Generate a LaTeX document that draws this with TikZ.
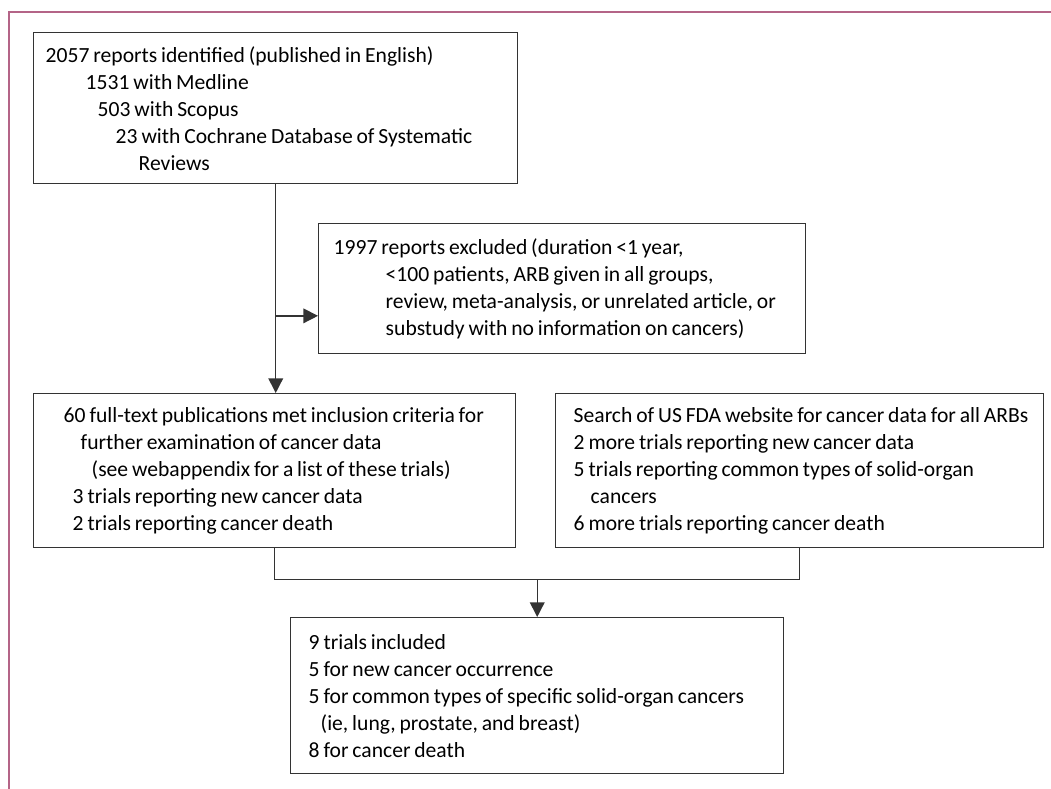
\documentclass[tikz,border=0pt]{standalone}
\usepackage{fontspec}
\setmainfont{Carlito}
\usetikzlibrary{arrows.meta,calc}
\definecolor{framepink}{RGB}{180,100,135}
\begin{document}
\begin{tikzpicture}[x=0.75pt,y=-0.75pt,font=\fontsize{16.2}{20.25}\selectfont,
  box/.style={draw=black!80,line width=1.1pt,anchor=north west,align=left,inner ysep=0pt,
    execute at begin node={\rightskip=-4em plus 1fil\spaceskip=2.9pt plus 1pt}},
  wire/.style={draw=black!80,line width=1.1pt},
  arr/.style={wire,-{Triangle[length=11pt,width=11pt]}}]
\useasboundingbox (0,0) rectangle (1051,789);
\draw[framepink,line width=1.2pt] (1051,12) -- (9,12) -- (9,789);
\node[box,inner xsep=9pt,text width=345pt,minimum height=113.25pt] (found) at (33,32) {2057 reports identified (published in English)\\
\hspace*{30pt}1531 with Medline\\
\hspace*{39pt}503 with Scopus\\
\hspace*{52.5pt}23 with Cochrane Database of Systematic\\
\hspace*{69.75pt}Reviews};
\node[box,inner xsep=11.25pt,text width=342.75pt,minimum height=97.5pt] (excluded) at (318,223) {1997 reports excluded (duration <1 year,\\
\hspace*{39pt}<100 patients, ARB given in all groups,\\
\hspace*{39pt}review, meta-analysis, or unrelated article, or\\
\hspace*{39pt}substudy with no information on cancers)};
\node[box,inner xsep=22.5pt,text width=316.5pt,minimum height=115.5pt] (screened) at (33,393) {60 full-text publications met inclusion criteria for\\
\hspace*{12.75pt}further examination of cancer data\\
\hspace*{21pt}(see webappendix for a list of these trials)\\
\hspace*{6.75pt}3 trials reporting new cancer data\\
\hspace*{6.75pt}2 trials reporting cancer death};
\node[box,inner xsep=13.5pt,text width=339pt,minimum height=115.5pt] (fda) at (555,393) {Search of US FDA website for cancer data for all ARBs\\
2 more trials reporting new cancer data\\
5 trials reporting common types of solid-organ\\
\hspace*{12.75pt}cancers\\
6 more trials reporting cancer death};
\node[box,inner xsep=13.5pt,text width=342.75pt,minimum height=117pt] (included) at (290,617) {9 trials included\\
5 for new cancer occurrence\\
5 for common types of specific solid-organ cancers\\
\hspace*{9pt}(ie, lung, prostate, and breast)\\
8 for cancer death};
% screening trunk
\draw[arr] (found.south) -- (found.south |- screened.north);
\coordinate (tap) at ($(found.south)!0.63!(found.south |- screened.north)$);
\draw[arr] (tap) -- (tap -| excluded.west);
% merge of both sources
\draw[wire] (screened.south) -- ++(0,31) coordinate (mergeL) -| (fda.south);
\coordinate (join) at ($(mergeL)!0.5!(mergeL -| fda.south)$);
\draw[arr] (join) -- (join |- included.north);
\end{tikzpicture}
\end{document}
